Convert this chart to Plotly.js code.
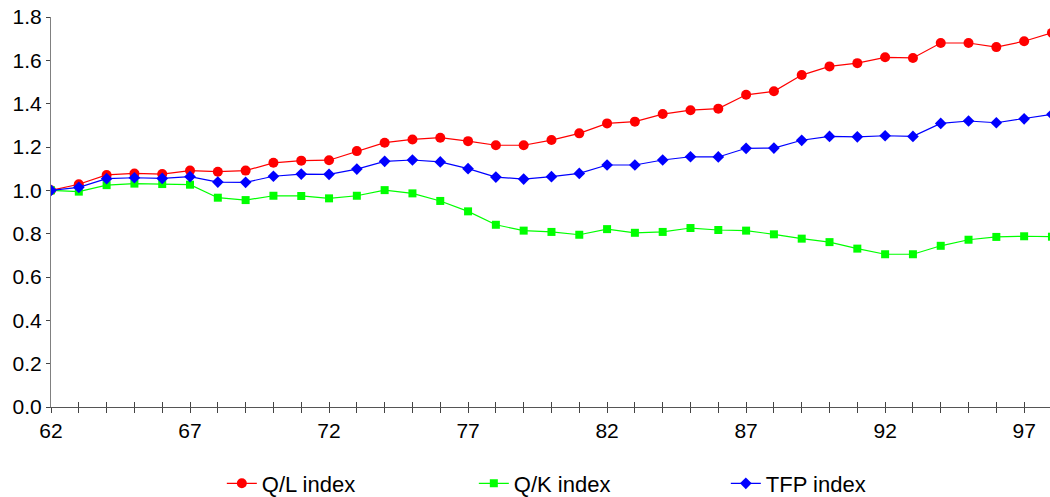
<!DOCTYPE html>
<html>
<head>
<meta charset="utf-8">
<script src="https://cdn.plot.ly/plotly-3.0.1.min.js"></script>
<style>
  html, body { margin: 0; padding: 0; background: #fff; }
  #chart { width: 1050px; height: 497px; }
</style>
</head>
<body>
<div id="chart"></div>
<script>
// Years (1962-1998, two-digit)
const years = [62,63,64,65,66,67,68,69,70,71,72,73,74,75,76,77,78,79,80,81,82,83,84,85,86,87,88,89,90,91,92,93,94,95,96,97,98];

// Q/L index
const qlIndex = [1.000,1.028,1.071,1.078,1.075,1.091,1.086,1.091,1.127,1.137,1.139,1.181,1.220,1.235,1.243,1.227,1.208,1.208,1.232,1.263,1.309,1.317,1.352,1.370,1.377,1.441,1.457,1.532,1.572,1.587,1.614,1.611,1.680,1.680,1.661,1.688,1.727];

// Q/K index
const qkIndex = [1.000,0.994,1.024,1.031,1.029,1.026,0.966,0.955,0.975,0.974,0.963,0.975,1.001,0.986,0.951,0.903,0.841,0.814,0.808,0.795,0.821,0.804,0.808,0.826,0.817,0.814,0.797,0.777,0.761,0.731,0.705,0.705,0.744,0.772,0.785,0.788,0.786];

// TFP index
const tfpIndex = [1.000,1.014,1.054,1.058,1.055,1.063,1.038,1.037,1.065,1.075,1.074,1.098,1.134,1.140,1.131,1.100,1.061,1.052,1.063,1.078,1.117,1.117,1.140,1.155,1.154,1.194,1.195,1.231,1.249,1.247,1.252,1.249,1.309,1.320,1.312,1.330,1.351];

const seriesNames = ["Q/L index", "Q/K index", "TFP index"];

// x tick labels: every year gets a tick, every fifth year a label
const xTickVals = years.slice();
const xTickText = years.map(y => ((y - 62) % 5 === 0) ? String(y) : "");

const FONT = "Liberation Sans, Arial, sans-serif";

const traces = [
  {
    x: years, y: qlIndex, name: seriesNames[0], type: "scatter", mode: "lines+markers",
    line: { color: "#ff0000", width: 1.2 },
    marker: { symbol: "circle", size: 10, color: "#ff0000" }
  },
  {
    x: years, y: qkIndex, name: seriesNames[1], type: "scatter", mode: "lines+markers",
    line: { color: "#00ff00", width: 1.2 },
    marker: { symbol: "square", size: 8, color: "#00ff00" }
  },
  {
    x: years, y: tfpIndex, name: seriesNames[2], type: "scatter", mode: "lines+markers",
    line: { color: "#0000ff", width: 1.2 },
    marker: { symbol: "diamond", size: 9, color: "#0000ff" }
  },
  // empty helper trace so the overlaid tick axis (inside ticks) is drawn
  { x: [], y: [], xaxis: "x2", yaxis: "y", type: "scatter", mode: "lines", showlegend: false, hoverinfo: "skip" }
];

const xRange = [62, 97.93];

const layout = {
  width: 1050,
  height: 497,
  margin: { l: 51, r: 0, t: 17, b: 90, pad: 0, autoexpand: false },
  paper_bgcolor: "#ffffff",
  plot_bgcolor: "#ffffff",
  font: { family: FONT, size: 21, color: "#000000" },
  showlegend: true,
  legend: {
    orientation: "h",
    x: 0.171, xanchor: "left",
    y: -0.1423, yanchor: "top",
    font: { family: FONT, size: 22, color: "#000000" },
    entrywidth: 207,
    entrywidthmode: "pixels",
    bgcolor: "rgba(0,0,0,0)"
  },
  xaxis: {
    range: xRange,
    tickmode: "array",
    tickvals: xTickVals,
    ticktext: xTickText,
    ticks: "outside",
    ticklen: 5,
    tickwidth: 1,
    tickcolor: "#444444",
    showline: true,
    linecolor: "#555555",
    linewidth: 1,
    showgrid: false,
    zeroline: false,
    tickfont: { family: FONT, size: 21, color: "#000000" },
    fixedrange: true
  },
  xaxis2: {
    overlaying: "x",
    anchor: "y",
    side: "bottom",
    range: xRange,
    tickmode: "array",
    tickvals: xTickVals,
    ticks: "inside",
    ticklen: 5,
    tickwidth: 1,
    tickcolor: "#444444",
    showticklabels: false,
    showline: false,
    showgrid: false,
    zeroline: false,
    fixedrange: true
  },
  yaxis: {
    range: [0, 1.8],
    tickmode: "linear",
    tick0: 0,
    dtick: 0.2,
    tickformat: ".1f",
    ticks: "outside",
    ticklen: 4,
    tickwidth: 1,
    tickcolor: "#444444",
    showline: true,
    linecolor: "#808080",
    linewidth: 1,
    showgrid: false,
    zeroline: false,
    tickfont: { family: FONT, size: 21, color: "#000000" },
    fixedrange: true
  }
};

Plotly.newPlot("chart", traces, layout, { displayModeBar: false, staticPlot: true });
</script>
</body>
</html>
